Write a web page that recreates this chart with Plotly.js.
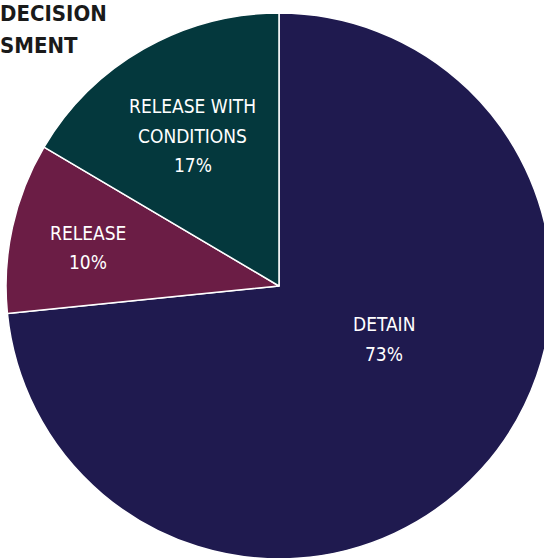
<!DOCTYPE html>
<html>
<head>
<meta charset="utf-8">
<script src="https://cdn.plot.ly/plotly-3.0.1.min.js"></script>
<style>
html,body{margin:0;padding:0;overflow:hidden;background:#fff;width:544px;height:558px;}
#chart{width:558px;height:568px;}
</style>
</head>
<body>
<div id="chart"></div>
<script>
const categories = ["DETAIN", "RELEASE", "RELEASE WITH<br>CONDITIONS"];
const shares = [73.4, 10.1, 16.5];
const shareLabels = ["73%", "10%", "17%"];
const colors = ["#1f1a4f", "#6b1d45", "#04383d"];
const titleLines = ["DECISION", "SMENT"];

const FONT = "'DejaVu Sans Condensed', 'Liberation Sans Narrow', sans-serif";
const W = 558, H = 568;

const trace = {
  type: "pie",
  labels: categories,
  values: shares,
  sort: false,
  direction: "clockwise",
  rotation: 0,
  marker: {colors: colors, line: {color: "#ffffff", width: 1.5}},
  textinfo: "none",
  hoverinfo: "none",
  showlegend: false,
  domain: {x: [0.01075, 0.98925], y: [0.0159, 0.9771]}
};

// label line centres (pixels in the 558x568 plot area): [x, first line y]
const labelPos = [[384, 324], [88, 232.5], [192.5, 106]];
const LINE_GAP = 29.5;
const annotations = [];
categories.forEach((c, i) => {
  const lines = c.split("<br>").concat([shareLabels[i]]);
  lines.forEach((ln, k) => {
    annotations.push({
      text: ln,
      xref: "paper", yref: "paper",
      x: labelPos[i][0] / W, y: 1 - (labelPos[i][1] + k * LINE_GAP) / H,
      xanchor: "center", yanchor: "middle",
      showarrow: false,
      font: {family: FONT, size: 19, color: "#ffffff"}
    });
  });
});
titleLines.forEach((ln, k) => {
  annotations.push({
    text: "<b>" + ln + "</b>",
    xref: "paper", yref: "paper",
    x: -0.004, y: 1 - (13.5 + k * 32) / H,
    xanchor: "left", yanchor: "middle",
    showarrow: false,
    font: {family: FONT, size: 22, color: "#1a1a1a"}
  });
});

const layout = {
  width: W,
  height: H,
  margin: {l: 0, r: 0, t: 0, b: 0},
  paper_bgcolor: "#ffffff",
  showlegend: false,
  annotations: annotations
};

Plotly.newPlot("chart", [trace], layout, {staticPlot: true, displayModeBar: false});
</script>
</body>
</html>
